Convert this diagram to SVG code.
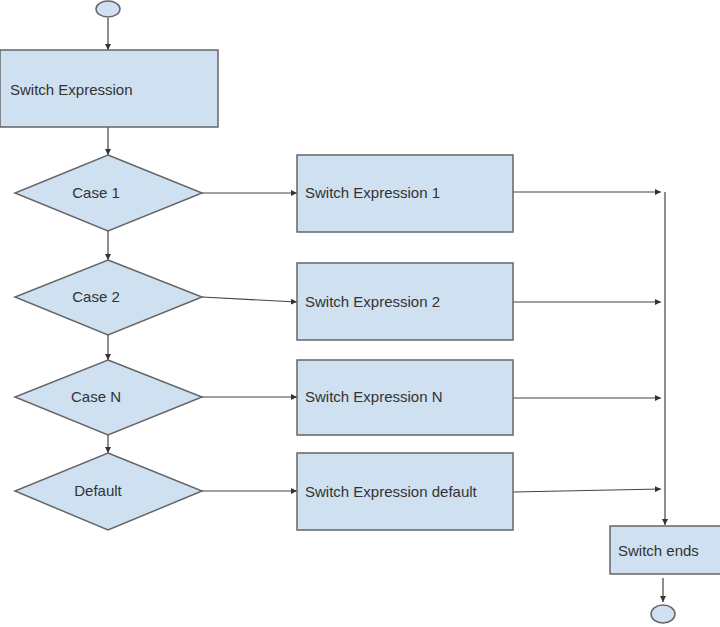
<svg xmlns="http://www.w3.org/2000/svg" width="720" height="627" viewBox="0 0 720 627">
<style>
.n{fill:#cfe0f1;stroke:#666;stroke-width:1.5}
.t{font-family:"Liberation Sans",Arial,sans-serif;font-size:15px;fill:#333}
.c{stroke:#444;stroke-width:1.2;fill:none;marker-end:url(#a)}
</style>
<defs><marker id="a" viewBox="0 0 8 8" refX="8" refY="4" markerWidth="5" markerHeight="5" orient="auto"><path d="M0,0L8,4L0,8z" fill="#333"/></marker></defs>
<rect width="720" height="627" fill="#fff"/>
<g id="connectors">
<path class="c" d="M108,18V50"/>
<path class="c" d="M108,127V155"/>
<path class="c" d="M108,231V260"/>
<path class="c" d="M108,335V360"/>
<path class="c" d="M108,435V453"/>
<path class="c" d="M202,193H297"/>
<path class="c" d="M202,297L297,302"/>
<path class="c" d="M202,397H297"/>
<path class="c" d="M202,491H297"/>
<path class="c" d="M513,192H661"/>
<path class="c" d="M513,302H661"/>
<path class="c" d="M513,398H661"/>
<path class="c" d="M513,492L661,489"/>
<path class="c" d="M665,192V525"/>
<path class="c" d="M663,578V602"/>
</g>
<g id="start"><ellipse class="n" cx="108" cy="9" rx="12" ry="8"/></g>
<g id="expr"><rect class="n" x="0" y="50" width="218" height="77"/><text class="t" x="10" y="95">Switch Expression</text></g>
<g id="case1"><polygon class="n" points="108,155 202,193 108,231 15,193"/><text class="t" x="96" y="198" text-anchor="middle">Case 1</text></g>
<g id="case2"><polygon class="n" points="108,260 202,297 108,335 15,297"/><text class="t" x="96" y="302" text-anchor="middle">Case 2</text></g>
<g id="caseN"><polygon class="n" points="108,360 202,397 108,435 15,397"/><text class="t" x="96" y="402" text-anchor="middle">Case N</text></g>
<g id="default"><polygon class="n" points="108,453 202,491 108,530 15,491"/><text class="t" x="98" y="496" text-anchor="middle">Default</text></g>
<g id="b1"><rect class="n" x="297" y="155" width="216" height="77"/><text class="t" x="305" y="198">Switch Expression 1</text></g>
<g id="b2"><rect class="n" x="297" y="263" width="216" height="77"/><text class="t" x="305" y="307">Switch Expression 2</text></g>
<g id="bN"><rect class="n" x="297" y="360" width="216" height="75"/><text class="t" x="305" y="402">Switch Expression N</text></g>
<g id="bD"><rect class="n" x="297" y="453" width="216" height="77"/><text class="t" x="305" y="497">Switch Expression default</text></g>
<g id="ends"><rect class="n" x="610" y="526" width="112" height="48"/><text class="t" x="618" y="556">Switch ends</text></g>
<g id="end"><ellipse class="n" cx="663" cy="614" rx="12" ry="9"/></g>
</svg>
